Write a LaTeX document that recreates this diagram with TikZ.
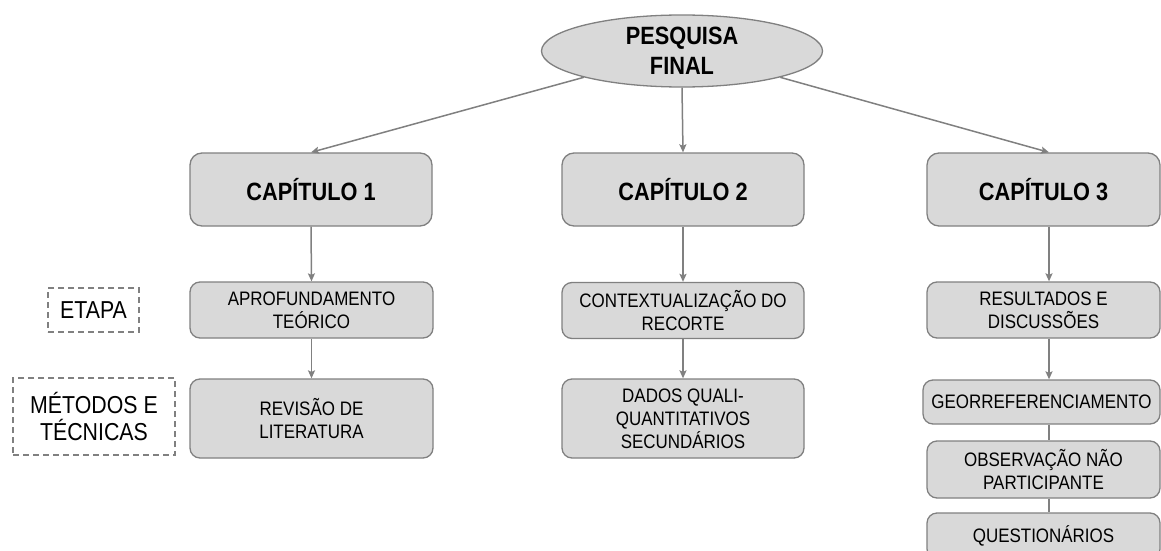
\documentclass[tikz,border=0pt]{standalone}
\usepackage{fontspec}
\setmainfont[FakeStretch=0.87]{Liberation Sans}
\usetikzlibrary{arrows.meta,shapes.geometric}
\definecolor{boxfill}{RGB}{217,217,217}
\definecolor{boxline}{RGB}{128,128,128}
\tikzset{
  chapbox/.style={draw=boxline,line width=1.3pt,fill=boxfill,rounded corners=12pt,inner sep=0pt,
    align=center,font=\fontsize{25}{30}\selectfont\bfseries},
  subbox/.style={draw=boxline,line width=1.3pt,fill=boxfill,rounded corners=10pt,inner sep=0pt,
    align=center,font=\fontsize{19.5}{23}\selectfont},
  lblbox/.style={draw=boxline,line width=1.2pt,dash pattern=on 6pt off 4pt,inner sep=0pt,
    align=center,font=\fontsize{24.5}{27}\selectfont},
  arr/.style={draw=boxline,line width=1.5pt,-{Stealth[length=8pt,width=7pt,inset=1.5pt]}},
  con/.style={draw=boxline,line width=1.5pt},
}
\begin{document}
\begin{tikzpicture}[x=1pt,y=-1pt]
\useasboundingbox (0,0) rectangle (1161,551);
\clip (0,0) rectangle (1161,551);
\node[ellipse,draw=boxline,line width=1.3pt,fill=boxfill,minimum width=281pt,minimum height=72pt,inner sep=0pt,
  align=center,font=\fontsize{25}{30}\selectfont\bfseries] (pesq) at (682,51) {PESQUISA\\FINAL};
% chapters
\node[chapbox,minimum width=242pt,minimum height=73pt] (cap1) at (311,189.5) {CAPÍTULO 1};
\node[chapbox,minimum width=242pt,minimum height=73pt] (cap2) at (683,189.5) {CAPÍTULO 2};
\node[chapbox,minimum width=233pt,minimum height=73pt] (cap3) at (1043.5,189.5) {CAPÍTULO 3};
% stage row
\node[subbox,minimum width=243pt,minimum height=56pt] (apro) at (311.5,310) {APROFUNDAMENTO\\TEÓRICO};
\node[subbox,minimum width=242pt,minimum height=56pt] (cont) at (683,310.5) {CONTEXTUALIZAÇÃO DO\\RECORTE};
\node[subbox,minimum width=233pt,minimum height=56pt] (resu) at (1043.5,310) {RESULTADOS E\\DISCUSSÕES};
% methods row
\node[subbox,minimum width=243pt,minimum height=79pt] (revi) at (311.5,418.5) {REVISÃO DE\\LITERATURA};
\node[subbox,minimum width=242pt,minimum height=79pt] (dado) at (683,418.5) {DADOS QUALI-\\QUANTITATIVOS\\SECUNDÁRIOS};
\node[subbox,minimum width=237pt,minimum height=44pt] (geor) at (1041.5,402) {GEORREFERENCIAMENTO};
\node[subbox,minimum width=233pt,minimum height=57pt] (obse) at (1043.5,469.5) {OBSERVAÇÃO NÃO\\PARTICIPANTE};
\node[subbox,minimum width=233pt,minimum height=46pt] (ques) at (1043.5,536) {QUESTIONÁRIOS};
% labels
\node[lblbox,minimum width=91pt,minimum height=44pt] (etapa) at (93.5,310) {ETAPA};
\node[lblbox,minimum width=162pt,minimum height=77pt] (meto) at (94,416.5) {MÉTODOS E\\TÉCNICAS};
% connectors
\coordinate (c3x) at (1049,0);
\draw[arr] (pesq.195) -- (cap1.north);
\draw[arr] (pesq.south) -- (cap2.north);
\draw[arr] (pesq.345) -- (cap3.north -| c3x);
\draw[arr] (cap1.south) -- (apro.north);
\draw[arr] (apro.south) -- (revi.north);
\draw[arr] (cap2.south) -- (cont.north);
\draw[arr] (cont.south) -- (dado.north);
\draw[arr] (cap3.south -| c3x) -- (resu.north -| c3x);
\draw[arr] (resu.south -| c3x) -- (geor.north -| c3x);
\draw[con] (geor.south -| c3x) -- (obse.north -| c3x);
\draw[con] (obse.south -| c3x) -- (ques.north -| c3x);
\end{tikzpicture}
\end{document}
